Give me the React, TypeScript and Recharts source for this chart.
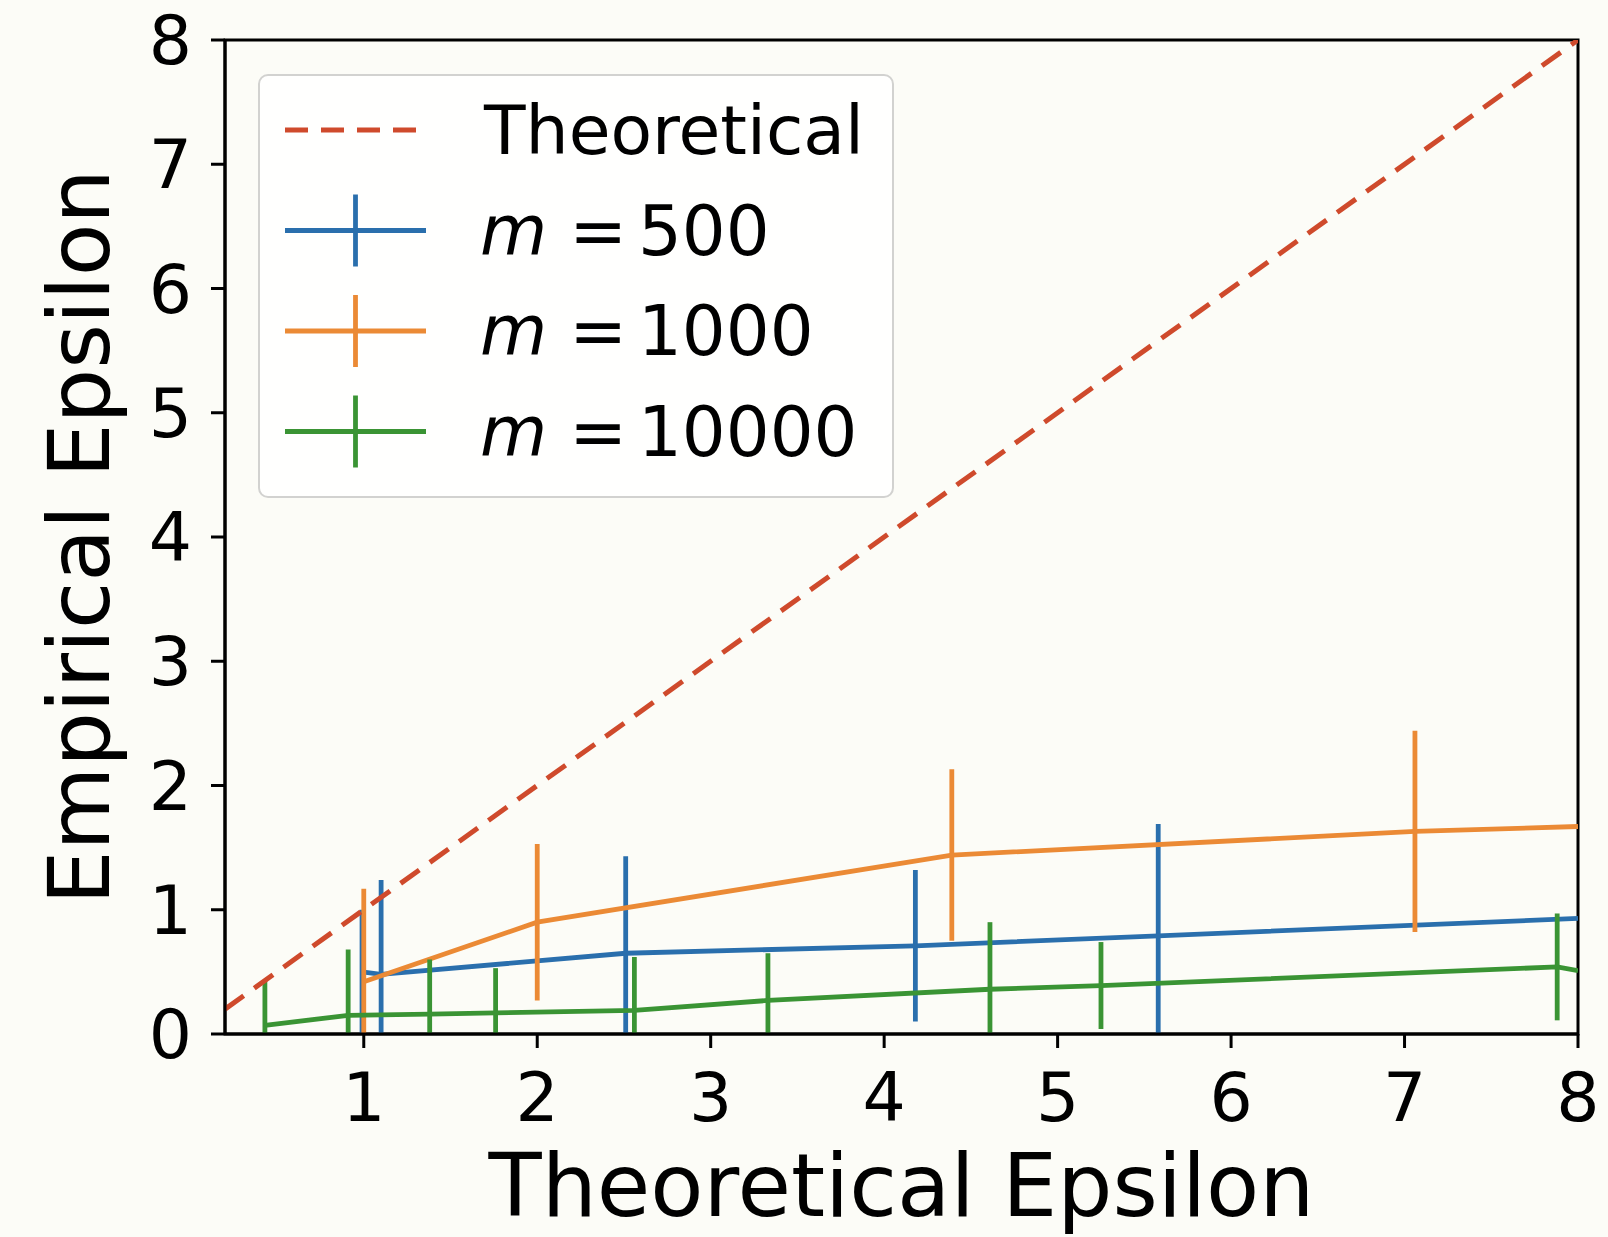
import React from 'react';
import { ComposedChart, Line, XAxis, YAxis, ErrorBar, ReferenceArea, Label } from 'recharts';

const W = 1608;
const H = 1237;
const BG = '#fcfcf7';
const FONT = 'DejaVu Sans';

const xTicks = [1, 2, 3, 4, 5, 6, 7, 8];
const yTicks = [0, 1, 2, 3, 4, 5, 6, 7, 8];

const theoX = [0.2, 8];
const theoY = [0.2, 8];

const m500X = [0.99, 1.1, 2.51, 4.18, 5.58, 8.0];
const m500Y = [0.5, 0.48, 0.65, 0.71, 0.79, 0.93];
const m500Err = [0.5, 0.76, 0.78, 0.61, 0.9, 0];

const m1000X = [1.0, 2.0, 4.39, 7.06, 8.0];
const m1000Y = [0.42, 0.9, 1.44, 1.63, 1.67];
const m1000Err = [0.75, 0.63, 0.69, 0.81, 0];

const m10000X = [0.43, 0.91, 1.38, 1.76, 2.56, 3.33, 4.61, 5.25, 7.88, 8.0];
const m10000Y = [0.07, 0.15, 0.16, 0.17, 0.19, 0.27, 0.36, 0.39, 0.54, 0.51];
const m10000Err = [0.36, 0.53, 0.44, 0.36, 0.43, 0.38, 0.54, 0.35, 0.43, 0];

const C_BLUE = '#2a6fad';
const C_ORANGE = '#eb8a35';
const C_GREEN = '#3a9434';
const C_RED = '#cf4a2c';

// error bars are clipped at the bottom of the axes (y = 0), as in the reference
const zip = (xs: number[], ys: number[], es?: number[]) =>
  xs.map((x, i) => {
    const e = es ? es[i] : 0;
    return { x, y: ys[i], err: [Math.min(e, ys[i]), e] };
  });

const theoData = zip(theoX, theoY);
const m500Data = zip(m500X, m500Y, m500Err);
const m1000Data = zip(m1000X, m1000Y, m1000Err);
const m10000Data = zip(m10000X, m10000Y, m10000Err);

const legendItems = [
  { label: 'Theoretical', color: C_RED, dashed: true, math: false },
  { label: '500', color: C_BLUE, dashed: false, math: true },
  { label: '1000', color: C_ORANGE, dashed: false, math: true },
  { label: '10000', color: C_GREEN, dashed: false, math: true },
];

const LW = 4.8;

function LegendBox() {
  return (
    <div
      style={{
        position: 'absolute',
        left: 258,
        top: 74,
        width: 636,
        height: 424,
        border: '2px solid #d2d2d0',
        borderRadius: 10,
        background: 'rgba(255,255,255,0.85)',
        boxSizing: 'border-box',
      }}
    >
      <svg width={636} height={424} style={{ position: 'absolute', left: -2, top: -2 }}>
        {legendItems.map((it, i) => {
          const cy = 56 + i * 100.5;
          return (
            <g key={i}>
              {it.dashed ? (
                <line x1={27} x2={168} y1={cy} y2={cy} stroke={it.color} strokeWidth={5} strokeDasharray="23 13" />
              ) : (
                <g>
                  <line x1={27} x2={168} y1={cy} y2={cy} stroke={it.color} strokeWidth={LW} />
                  <line x1={97.5} x2={97.5} y1={cy - 36} y2={cy + 36} stroke={it.color} strokeWidth={LW} />
                </g>
              )}
              {it.math ? (
                <text x={222} y={cy + 24} fontSize={69} fontFamily={FONT} fill="#000">
                  <tspan fontStyle="italic">m</tspan>
                  <tspan>{' ='}</tspan>
                  <tspan dx={11}>{it.label}</tspan>
                </text>
              ) : (
                <text x={226} y={cy + 24} fontSize={68} fontFamily={FONT} fill="#000">
                  {it.label}
                </text>
              )}
            </g>
          );
        })}
      </svg>
    </div>
  );
}

export default function App() {
  return (
    <div style={{ position: 'fixed', left: 0, top: 0, width: W, height: H, background: BG }}>
      <ComposedChart width={W} height={H} margin={{ top: 40, right: 30, bottom: 0, left: 0 }}>
        <XAxis
          type="number"
          dataKey="x"
          domain={[0.2, 8]}
          ticks={xTicks}
          interval={0}
          allowDataOverflow
          height={203}
          tickSize={14}
          tickMargin={25}
          axisLine={{ stroke: '#000', strokeWidth: 3 }}
          tickLine={{ stroke: '#000', strokeWidth: 3 }}
          tick={{ fill: '#000', fontSize: 68, fontFamily: FONT }}
        >
          <Label
            content={(props: any) => {
              const vb = props.viewBox || {};
              return (
                <text
                  x={vb.x + vb.width / 2}
                  y={vb.y + 182}
                  textAnchor="middle"
                  fontSize={87}
                  fontFamily={FONT}
                  fill="#000"
                >
                  Theoretical Epsilon
                </text>
              );
            }}
          />
        </XAxis>
        <YAxis
          type="number"
          dataKey="y"
          domain={[0, 8]}
          ticks={yTicks}
          interval={0}
          allowDataOverflow
          width={225}
          tickSize={14}
          tickMargin={19}
          axisLine={{ stroke: '#000', strokeWidth: 3 }}
          tickLine={{ stroke: '#000', strokeWidth: 3 }}
          tick={{ fill: '#000', fontSize: 68, fontFamily: FONT }}
        >
          <Label
            content={(props: any) => {
              const vb = props.viewBox || {};
              const cx = 109;
              const cy = vb.y + vb.height / 2;
              return (
                <text
                  x={cx}
                  y={cy}
                  textAnchor="middle"
                  fontSize={86}
                  fontFamily={FONT}
                  fill="#000"
                  transform={`rotate(-90 ${cx} ${cy})`}
                >
                  Empirical Epsilon
                </text>
              );
            }}
          />
        </YAxis>
        <Line
          data={m500Data}
          dataKey="y"
          stroke={C_BLUE}
          strokeWidth={LW}
          dot={false}
          activeDot={false}
          isAnimationActive={false}
          type="linear"
        >
          <ErrorBar dataKey="err" direction="y" width={0} stroke={C_BLUE} strokeWidth={LW} isAnimationActive={false} />
        </Line>
        <Line
          data={m1000Data}
          dataKey="y"
          stroke={C_ORANGE}
          strokeWidth={LW}
          dot={false}
          activeDot={false}
          isAnimationActive={false}
          type="linear"
        >
          <ErrorBar dataKey="err" direction="y" width={0} stroke={C_ORANGE} strokeWidth={LW} isAnimationActive={false} />
        </Line>
        <Line
          data={m10000Data}
          dataKey="y"
          stroke={C_GREEN}
          strokeWidth={LW}
          dot={false}
          activeDot={false}
          isAnimationActive={false}
          type="linear"
        >
          <ErrorBar dataKey="err" direction="y" width={0} stroke={C_GREEN} strokeWidth={LW} isAnimationActive={false} />
        </Line>
        <Line
          data={theoData}
          dataKey="y"
          stroke={C_RED}
          strokeWidth={5}
          strokeDasharray="23 13"
          dot={false}
          activeDot={false}
          isAnimationActive={false}
          type="linear"
        />
        <ReferenceArea
          x1={0.2}
          x2={8}
          y1={0}
          y2={8}
          fill="none"
          fillOpacity={0}
          stroke="#000"
          strokeWidth={3}
          ifOverflow="visible"
        />
      </ComposedChart>
      <LegendBox />
    </div>
  );
}
